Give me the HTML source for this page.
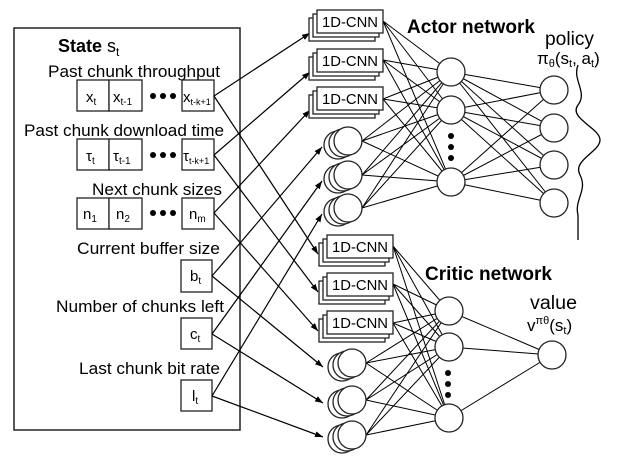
<!DOCTYPE html>
<html><head><meta charset="utf-8"><style>
html,body{margin:0;padding:0;background:#fff;}
svg{display:block;}
text{font-family:"Liberation Sans",sans-serif;fill:#000;}
</style></head><body>
<svg width="625" height="460" viewBox="0 0 625 460" xmlns="http://www.w3.org/2000/svg">
<defs>
<marker id="ah" markerWidth="8" markerHeight="6" refX="8" refY="3" orient="auto" markerUnits="userSpaceOnUse">
<path d="M0,0 L8,3 L0,6 z" fill="#000"/></marker>
</defs>
<g stroke="#222" stroke-width="1.5" fill="none">
<rect x="14" y="28" width="226" height="402"/>
</g>
<text x="58" y="52" font-size="18" font-weight="bold">State <tspan font-weight="normal">s</tspan><tspan font-weight="normal" font-size="12" dy="4">t</tspan></text>
<g font-size="17">
<text x="48" y="77" textLength="172" lengthAdjust="spacingAndGlyphs">Past chunk throughput</text>
<text x="24" y="136" textLength="200" lengthAdjust="spacingAndGlyphs">Past chunk download time</text>
<text x="92" y="195" textLength="130" lengthAdjust="spacingAndGlyphs">Next chunk sizes</text>
<text x="77" y="254" textLength="143" lengthAdjust="spacingAndGlyphs">Current buffer size</text>
<text x="56" y="312" textLength="168" lengthAdjust="spacingAndGlyphs">Number of chunks left</text>
<text x="79" y="374" textLength="141" lengthAdjust="spacingAndGlyphs">Last chunk bit rate</text>
</g>
<g stroke="#222" stroke-width="1.3" fill="#fff">
<rect x="77" y="80" width="32" height="31"/><rect x="109" y="80" width="33" height="31"/><rect x="182" y="80" width="32" height="31"/>
<rect x="77" y="139" width="32" height="31"/><rect x="109" y="139" width="33" height="31"/><rect x="182" y="139" width="32" height="31"/>
<rect x="77" y="198" width="32" height="31"/><rect x="109" y="198" width="33" height="31"/><rect x="182" y="198" width="32" height="31"/>
<rect x="181" y="260" width="31" height="32"/>
<rect x="181" y="318" width="31" height="31"/>
<rect x="181" y="380" width="31" height="31"/>
</g>
<g fill="#000">
<circle cx="153" cy="96" r="3"/><circle cx="163" cy="96" r="3"/><circle cx="173" cy="96" r="3"/>
<circle cx="153" cy="155" r="3"/><circle cx="163" cy="155" r="3"/><circle cx="173" cy="155" r="3"/>
<circle cx="153" cy="213" r="3"/><circle cx="163" cy="213" r="3"/><circle cx="173" cy="213" r="3"/>
</g>
<g font-size="15">
<text x="86" y="102">x<tspan font-size="10" dy="3">t</tspan></text>
<text x="113" y="102">x<tspan font-size="10" dy="3">t-1</tspan></text>
<text x="183" y="102">x<tspan font-size="9" dy="3">t-k+1</tspan></text>
<text x="86" y="161">τ<tspan font-size="10" dy="3">t</tspan></text>
<text x="113" y="161">τ<tspan font-size="10" dy="3">t-1</tspan></text>
<text x="183" y="161">τ<tspan font-size="9" dy="3">t-k+1</tspan></text>
<text x="83" y="219">n<tspan font-size="10" dy="3">1</tspan></text>
<text x="116" y="219">n<tspan font-size="10" dy="3">2</tspan></text>
<text x="189" y="219">n<tspan font-size="10" dy="3">m</tspan></text>
<text x="190" y="281">b<tspan font-size="10" dy="3">t</tspan></text>
<text x="190" y="339">c<tspan font-size="10" dy="3">t</tspan></text>
<text x="192" y="401">l<tspan font-size="10" dy="3">t</tspan></text>
</g>
<g stroke="#000" stroke-width="1.2" marker-end="url(#ah)">
<line x1="214" y1="96" x2="310" y2="33"/>
<line x1="214" y1="155" x2="310" y2="72"/>
<line x1="214" y1="213" x2="310" y2="110"/>
<line x1="212" y1="276" x2="322" y2="147"/>
<line x1="212" y1="334" x2="322" y2="181"/>
<line x1="212" y1="396" x2="322" y2="214"/>
<line x1="214" y1="96" x2="318" y2="254"/>
<line x1="214" y1="155" x2="318" y2="292"/>
<line x1="214" y1="213" x2="318" y2="331"/>
<line x1="212" y1="276" x2="323" y2="367"/>
<line x1="212" y1="334" x2="323" y2="403"/>
<line x1="212" y1="396" x2="323" y2="437"/>
</g>
<g stroke="#000" stroke-width="1">
<path d="M383,21 L451,72 M383,21 L451,110 M383,21 L451,182
M383,60 L451,72 M383,60 L451,110 M383,60 L451,182
M383,99 L451,72 M383,99 L451,110 M383,99 L451,182
M362,141 L451,72 M362,141 L451,110 M362,141 L451,182
M362,175 L451,72 M362,175 L451,110 M362,175 L451,182
M362,208 L451,72 M362,208 L451,110 M362,208 L451,182
M451,72 L554,90 M451,72 L554,128 M451,72 L554,165 M451,72 L554,203
M451,110 L554,90 M451,110 L554,128 M451,110 L554,165 M451,110 L554,203
M451,182 L554,90 M451,182 L554,128 M451,182 L554,165 M451,182 L554,203"/>
<path d="M393,246 L449,311 M393,246 L449,347 M393,246 L449,418
M393,284 L449,311 M393,284 L449,347 M393,284 L449,418
M393,323 L449,311 M393,323 L449,347 M393,323 L449,418
M366,363 L449,311 M366,363 L449,347 M366,363 L449,418
M366,400 L449,311 M366,400 L449,347 M366,400 L449,418
M366,435 L449,311 M366,435 L449,347 M366,435 L449,418
M449,311 L552,355 M449,347 L552,355 M449,418 L552,355"/>
</g>
<g stroke="#222" stroke-width="1.3" fill="#fff">
<g id="cnn"><rect x="309" y="18" width="66" height="23"/><rect x="313" y="14" width="66" height="23"/><rect x="317" y="10" width="66" height="23"/></g>
<use href="#cnn" y="39"/><use href="#cnn" y="77"/>
<use href="#cnn" x="10" y="225"/><use href="#cnn" x="10" y="263"/><use href="#cnn" x="10" y="301"/>
</g>
<g font-size="14.5">
<text x="322" y="27" textLength="56" lengthAdjust="spacingAndGlyphs">1D-CNN</text><text x="322" y="66" textLength="56" lengthAdjust="spacingAndGlyphs">1D-CNN</text><text x="322" y="104" textLength="56" lengthAdjust="spacingAndGlyphs">1D-CNN</text>
<text x="332" y="252" textLength="56" lengthAdjust="spacingAndGlyphs">1D-CNN</text><text x="332" y="290" textLength="56" lengthAdjust="spacingAndGlyphs">1D-CNN</text><text x="332" y="328" textLength="56" lengthAdjust="spacingAndGlyphs">1D-CNN</text>
</g>
<g stroke="#222" stroke-width="1.3" fill="#fff">
<g id="sc"><circle cx="338" cy="145" r="14"/><circle cx="343" cy="143" r="14"/><circle cx="348" cy="141" r="14"/></g>
<use href="#sc" y="34"/><use href="#sc" y="67"/>
<use href="#sc" x="4" y="222"/><use href="#sc" x="4" y="259"/><use href="#sc" x="4" y="294"/>
<circle cx="451" cy="72" r="14"/><circle cx="451" cy="110" r="14"/><circle cx="451" cy="182" r="14"/>
<circle cx="554" cy="90" r="14"/><circle cx="554" cy="128" r="14"/><circle cx="554" cy="165" r="14"/><circle cx="554" cy="203" r="14"/>
<circle cx="449" cy="311" r="14"/><circle cx="449" cy="347" r="14"/><circle cx="449" cy="418" r="14"/>
<circle cx="552" cy="355" r="14"/>
</g>
<g fill="#000">
<circle cx="451" cy="136" r="3"/><circle cx="451" cy="147" r="3"/><circle cx="451" cy="158" r="3"/>
<circle cx="448" cy="373" r="3"/><circle cx="448" cy="384" r="3"/><circle cx="448" cy="395" r="3"/>
</g>
<path d="M578,65 C572,80 588,92 578,105 C568,118 600,128 600,140 C600,152 572,160 580,175 C588,190 574,200 578,215 L578,240" stroke="#000" stroke-width="1.3" fill="none"/>
<text x="407" y="33" font-size="19" font-weight="bold" textLength="128" lengthAdjust="spacingAndGlyphs">Actor network</text>
<text x="545" y="45" font-size="19" textLength="49" lengthAdjust="spacingAndGlyphs">policy</text>
<text x="537" y="64" font-size="17">π<tspan font-size="11" dy="3">θ</tspan><tspan dy="-3">(s</tspan><tspan font-size="11" dy="3">t</tspan><tspan dy="-3">, a</tspan><tspan font-size="11" dy="3">t</tspan><tspan dy="-3">)</tspan></text>
<text x="425" y="280" font-size="19" font-weight="bold" textLength="127" lengthAdjust="spacingAndGlyphs">Critic network</text>
<text x="530" y="309" font-size="19" textLength="47" lengthAdjust="spacingAndGlyphs">value</text>
<text x="527" y="331" font-size="17">v<tspan font-size="11" dy="-7">πθ</tspan><tspan dy="7">(s</tspan><tspan font-size="11" dy="3">t</tspan><tspan dy="-3">)</tspan></text>
</svg>
</body></html>
